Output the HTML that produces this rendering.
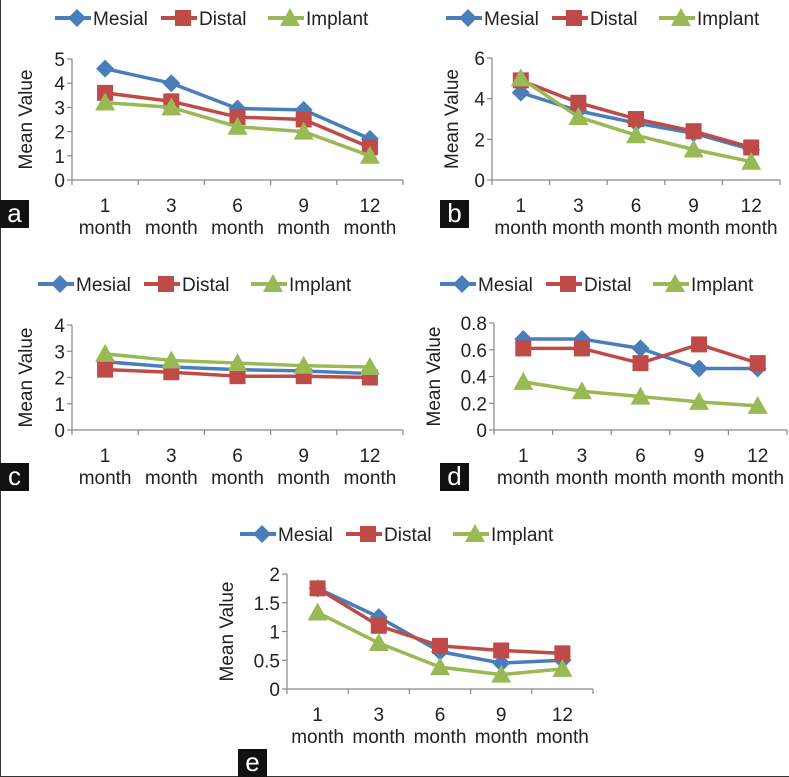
<!DOCTYPE html>
<html><head><meta charset="utf-8"><style>
html,body{margin:0;padding:0;background:#fff}
svg{display:block;font-family:"Liberation Sans",Arial,sans-serif}
</style></head><body>
<svg id="root" width="789" height="777" viewBox="0 0 789 777">
<line x1="0.5" y1="0" x2="0.5" y2="777" stroke="#333" stroke-width="1"/>
<line x1="0" y1="776.5" x2="789" y2="776.5" stroke="#333" stroke-width="1"/>
</svg>
<script>
const categories=["1","3","6","9","12"];
const seriesNames=["Mesial","Distal","Implant"];
const aMesial=[4.6,4.0,2.95,2.9,1.7];
const aDistal=[3.6,3.25,2.6,2.5,1.35];
const aImplant=[3.2,3.0,2.2,2.0,1.0];
const aTicks=["0","1","2","3","4","5"];
const bMesial=[4.3,3.4,2.8,2.3,1.5];
const bDistal=[4.9,3.8,3.0,2.4,1.6];
const bImplant=[5.0,3.1,2.2,1.5,0.9];
const bTicks=["0","2","4","6"];
const cMesial=[2.6,2.4,2.3,2.25,2.15];
const cDistal=[2.3,2.2,2.05,2.05,2.0];
const cImplant=[2.9,2.65,2.55,2.45,2.4];
const cTicks=["0","1","2","3","4"];
const dMesial=[0.68,0.68,0.61,0.46,0.46];
const dDistal=[0.61,0.61,0.5,0.64,0.5];
const dImplant=[0.36,0.29,0.25,0.21,0.18];
const dTicks=["0","0.2","0.4","0.6","0.8"];
const eMesial=[1.75,1.25,0.65,0.45,0.5];
const eDistal=[1.75,1.1,0.75,0.67,0.62];
const eImplant=[1.33,0.8,0.38,0.25,0.35];
const eTicks=["0","0.5","1","1.5","2"];

const NS="http://www.w3.org/2000/svg";
const root=document.getElementById('root');
const colors=["#4a7ebb","#be4b48","#98b954"];
function mk(tag,attrs,parent,text){const e=document.createElementNS(NS,tag);for(const k in attrs)e.setAttribute(k,attrs[k]);if(text!==undefined)e.textContent=text;parent.appendChild(e);return e;}
function marker(g,i,x,y){
  let m;
  if(i===0)m=mk('polygon',{points:`${x},${y-9} ${x+9},${y} ${x},${y+9} ${x-9},${y}`,fill:colors[0]},g);
  else if(i===1)m=mk('rect',{x:x-8,y:y-8,width:16,height:16,fill:colors[1]},g);
  else m=mk('polygon',{points:`${x},${y-10} ${x+10},${y+8} ${x-10},${y+8}`,fill:colors[2]},g);
  
  
}
function panel(p){
  const g=mk('g',{},root);
  
  
  const ymax=parseFloat(p.ticks[p.ticks.length-1]);
  const Y=v=>p.y0-(v/ymax)*(p.y0-p.y1);
  const step=(p.x1-p.x0)/categories.length;
  const X=i=>p.x0+step*(i+0.5);
  const lg=mk('g',{},g);
  
  
  seriesNames.forEach((n,i)=>{
    const lx=p.lx+p.lsp[i];
    const e=mk('g',{},lg);
    
    
    mk('line',{x1:lx-22,y1:p.ly,x2:lx+14,y2:p.ly,stroke:colors[i],'stroke-width':4},e);
    marker(e,i,lx,p.ly);
    mk('text',{x:lx+16,y:p.ly+7,'font-size':19,fill:'#222'},e,n);
  });
  const ya=mk('g',{},g);
  
  
  mk('line',{x1:p.x0,y1:p.y1,x2:p.x0,y2:p.y0,stroke:'#888','stroke-width':1.2},ya);
  p.ticks.forEach(t=>{const y=Y(parseFloat(t));
    mk('line',{x1:p.x0-5,y1:y,x2:p.x0,y2:y,stroke:'#888','stroke-width':1.2},ya);
    mk('text',{x:p.x0-7,y:y+7,'font-size':19,'text-anchor':'end',fill:'#222'},ya,t);});
  const yt=mk('text',{x:0,y:0,'font-size':19,'text-anchor':'middle',fill:'#222',transform:`translate(${p.ytx},${(p.y0+p.y1)/2}) rotate(-90)`},g,'Mean Value');
  
  
  const xa=mk('g',{},g);
  
  
  mk('line',{x1:p.x0,y1:p.y0,x2:p.x1,y2:p.y0,stroke:'#888','stroke-width':1.2},xa);
  for(let i=0;i<=categories.length;i++){const x=p.x0+step*i;mk('line',{x1:x,y1:p.y0,x2:x,y2:p.y0+5,stroke:'#888','stroke-width':1.2},xa);}
  categories.forEach((c,i)=>{
    mk('text',{x:X(i),y:p.y0+32,'font-size':19,'text-anchor':'middle',fill:'#222'},xa,c);
    mk('text',{x:X(i),y:p.y0+54,'font-size':19,'text-anchor':'middle',fill:'#222'},xa,'month');
  });
  p.series.forEach((vals,i)=>{
    const sg=mk('g',{},g);
    
    
    mk('polyline',{points:vals.map((v,k)=>X(k)+','+Y(v)).join(' '),fill:'none',stroke:colors[i],'stroke-width':3.5,'stroke-linejoin':'round'},sg);
    vals.forEach((v,k)=>marker(sg,i,X(k),Y(v)));
  });
  const lb=mk('g',{},g);
  
  
  mk('rect',{x:p.bx,y:p.by,width:29,height:28,fill:'#111'},lb);
  mk('text',{x:p.bx+14.5,y:p.by+22,'font-size':26,'text-anchor':'middle',fill:'#fff'},lb,p.id);
}
panel({id:'a',x0:72,x1:403,y0:180,y1:59,ticks:aTicks,series:[aMesial,aDistal,aImplant],lx:77,ly:18,lsp:[0,106,213],ytx:32,bx:0,by:200});
panel({id:'b',x0:492,x1:780,y0:180,y1:58,ticks:bTicks,series:[bMesial,bDistal,bImplant],lx:468,ly:18,lsp:[0,106,213],ytx:458,bx:440,by:200});
panel({id:'c',x0:72,x1:403,y0:430,y1:325,ticks:cTicks,series:[cMesial,cDistal,cImplant],lx:60,ly:284,lsp:[0,106,213],ytx:32,bx:0,by:463});
panel({id:'d',x0:494,x1:787,y0:430,y1:323,ticks:dTicks,series:[dMesial,dDistal,dImplant],lx:462,ly:284,lsp:[0,106,213],ytx:440,bx:440,by:463});
panel({id:'e',x0:287,x1:593,y0:689,y1:574,ticks:eTicks,series:[eMesial,eDistal,eImplant],lx:262,ly:534,lsp:[0,106,213],ytx:233,bx:238,by:749});
</script>
</body></html>
